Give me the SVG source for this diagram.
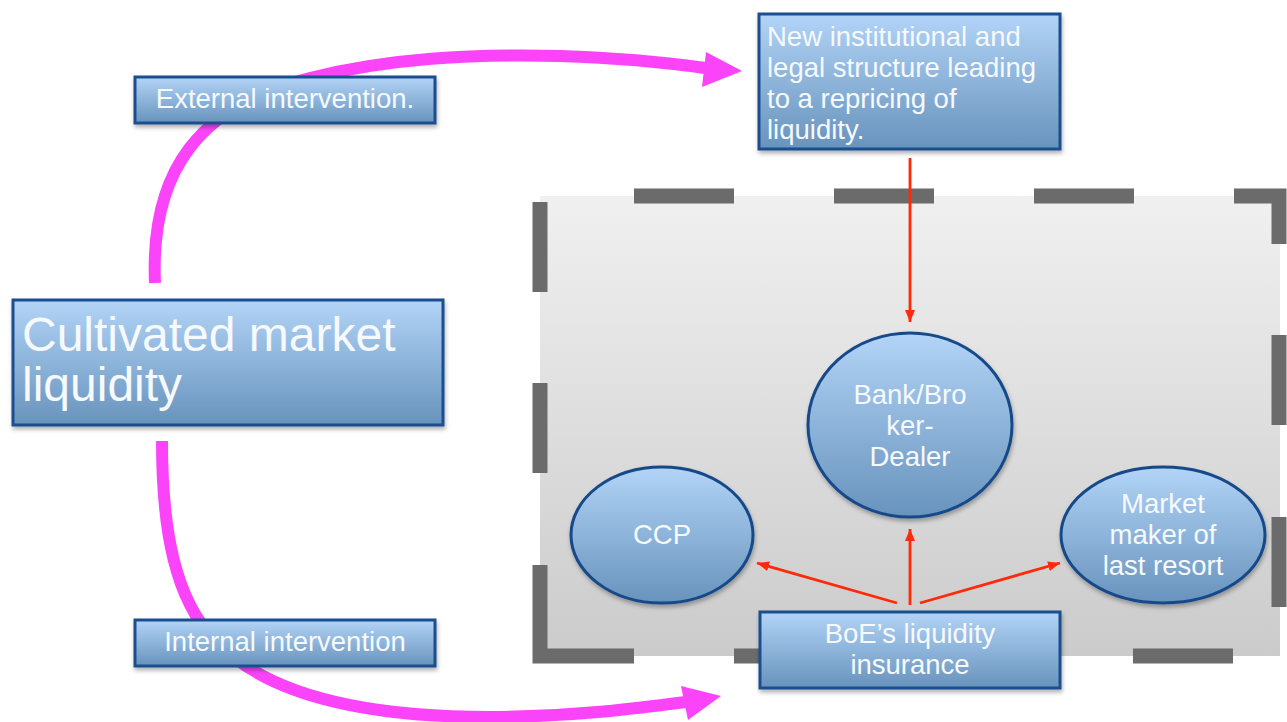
<svg xmlns="http://www.w3.org/2000/svg" width="1287" height="722" viewBox="0 0 1287 722">
<defs>
<linearGradient id="blue" x1="0" y1="0" x2="0" y2="1">
<stop offset="0" stop-color="#b2d4f7"/>
<stop offset="1" stop-color="#6893bc"/>
</linearGradient>
<linearGradient id="gray" x1="0" y1="0" x2="0" y2="1">
<stop offset="0" stop-color="#f0f0f0"/>
<stop offset="1" stop-color="#cbcbcb"/>
</linearGradient>
<filter id="shadow" x="-10%" y="-10%" width="120%" height="130%">
<feDropShadow dx="1" dy="3" stdDeviation="2" flood-color="#000" flood-opacity="0.3"/>
</filter>
<marker id="redhead" markerUnits="userSpaceOnUse" markerWidth="14" markerHeight="12" refX="12" refY="6" orient="auto">
<path d="M0,1 L12,6 L0,11 Z" fill="#ff2a0a"/>
</marker>
</defs>
<style>
.box{fill:url(#blue);stroke:#1b4e8f;stroke-width:3;filter:url(#shadow)}
.oval{fill:url(#blue);stroke:#174a8a;stroke-width:3;filter:url(#shadow)}
.t{font-family:"Liberation Sans",Arial,sans-serif;fill:#f6f9fd;font-size:27.5px}
.big{font-size:48px}
.c{text-anchor:middle}
.dash{fill:none;stroke:#6b6b6b;stroke-width:15;stroke-linecap:butt;stroke-linejoin:miter}
.mag{fill:none;stroke:#fb44f9;stroke-width:12}
.red{fill:none;stroke:#ff2a0a;stroke-width:2.8;marker-end:url(#redhead)}
</style>

<g id="container">
<rect x="540" y="196" width="740" height="460" fill="url(#gray)"/>
<path class="dash" d="M634,196H734M834,196H934M1034,196H1134M1234,196H1279V244M1279,335V425M1279,517V607M1233,656H1133M1034,656H934M834,656H734M634,656H540V565M540,473V383M540,292V202"/>
</g>

<g id="connectors">
<path class="mag" d="M155,283 C150,170 200,105 310,78 C390,58 470,54 560,56 C620,58 670,63 705,68"/>
<polygon points="706,52 742,71 702,87" fill="#fb44f9"/>
<path class="mag" d="M162,441 C162,530 175,600 215,640 C270,700 380,718 500,717 C580,716 640,708 686,702"/>
<polygon points="681,686 721,696 688,720" fill="#fb44f9"/>
<path class="red" d="M910,158 V322"/>
<path class="red" d="M910,605 V529"/>
<path class="red" d="M897,603 L757,563"/>
<path class="red" d="M920,603 L1060,563"/>
</g>

<g id="cultivated">
<rect class="box" x="13" y="300" width="430" height="125"/>
<text class="t big" x="22" y="351">Cultivated market</text>
<text class="t big" x="22" y="401">liquidity</text>
</g>

<g id="external">
<rect class="box" x="135" y="77" width="300" height="46"/>
<text class="t c" x="285" y="108">External intervention.</text>
</g>

<g id="internal">
<rect class="box" x="135" y="620" width="300" height="46"/>
<text class="t c" x="285" y="651">Internal intervention</text>
</g>

<g id="newstructure">
<rect class="box" x="759" y="14" width="301" height="135"/>
<text class="t" x="767" y="46">New institutional and</text>
<text class="t" x="767" y="77">legal structure leading</text>
<text class="t" x="767" y="108">to a repricing of</text>
<text class="t" x="767" y="139">liquidity.</text>
</g>

<g id="bank">
<ellipse class="oval" cx="910" cy="425" rx="102" ry="92"/>
<text class="t c" x="910" y="404">Bank/Bro</text>
<text class="t c" x="910" y="435">ker-</text>
<text class="t c" x="910" y="466">Dealer</text>
</g>

<g id="ccp">
<ellipse class="oval" cx="662" cy="535" rx="91" ry="68"/>
<text class="t c" x="662" y="544">CCP</text>
</g>

<g id="marketmaker">
<ellipse class="oval" cx="1163" cy="535" rx="102" ry="68"/>
<text class="t c" x="1163" y="513">Market</text>
<text class="t c" x="1163" y="544">maker of</text>
<text class="t c" x="1163" y="575">last resort</text>
</g>

<g id="boe">
<rect class="box" x="760" y="612" width="300" height="76"/>
<text class="t c" x="910" y="643">BoE’s liquidity</text>
<text class="t c" x="910" y="674">insurance</text>
</g>
</svg>
